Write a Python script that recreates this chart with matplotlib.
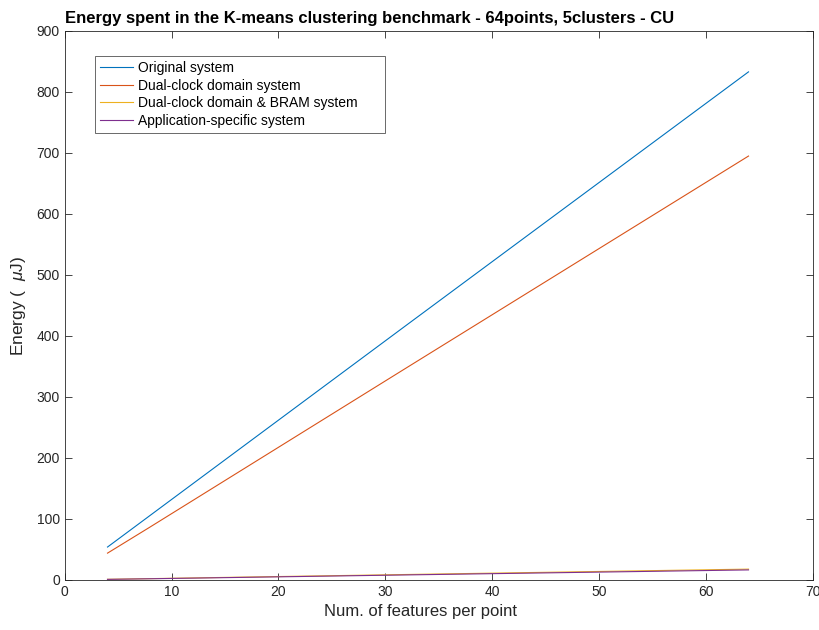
import matplotlib
matplotlib.use("Agg")
import matplotlib.pyplot as plt

plt.rcParams['font.family'] = ['Liberation Sans', 'DejaVu Sans']
plt.rcParams['mathtext.fontset'] = 'custom'
plt.rcParams['mathtext.it'] = 'Liberation Sans:italic'

features = [4, 8, 16, 32, 64]
original = [54, 106, 210, 418, 833]
dual_clock = [44, 87, 174, 348, 695]
dual_clock_bram = [1.1, 2.2, 4.5, 9.0, 17.8]
app_specific = [1.0, 2.0, 4.1, 8.3, 16.5]

series_labels = ["Original system", "Dual-clock domain system",
                 "Dual-clock domain & BRAM system", "Application-specific system"]
colors = ["#0072BD", "#D95319", "#EDB120", "#7E2F8E"]

fig = plt.figure(figsize=(8.2, 6.3), dpi=100)
ax = fig.add_axes([0.079, 0.0794, 0.912, 0.8714])

for ys, lab, c in zip([original, dual_clock, dual_clock_bram, app_specific], series_labels, colors):
    ax.plot(features, ys, color=c, lw=0.8, label=lab)

ax.set_xlim(0, 70)
ax.set_ylim(0, 900)
ax.set_xticks(range(0, 71, 10))
ax.set_yticks(range(0, 901, 100))
ax.tick_params(direction='in', top=True, right=True, labelsize=10, length=5,
               width=0.6, color='#262626', labelcolor='#262626')
for s in ax.spines.values():
    s.set_linewidth(0.6)
    s.set_color('#262626')

ax.set_xlabel("Num. of features per point", fontsize=12, color='#262626')
ax.xaxis.set_label_coords(0.475, -0.043)
ax.set_ylabel("Energy (  $\\mu$J)", fontsize=12.5, color='#262626', labelpad=6)
ax.set_title("Energy spent in the K-means clustering benchmark - 64points, 5clusters - CU",
             fontsize=12, fontweight='bold', pad=6, loc='left')

leg = ax.legend(loc='upper left', bbox_to_anchor=(0.04, 0.5, 0.388, 0.454), mode='expand',
                borderaxespad=0, fontsize=10, frameon=True, fancybox=False,
                handlelength=2.4, handletextpad=0.4, labelspacing=0.26, borderpad=0.35)
leg.get_frame().set_edgecolor('#262626')
leg.get_frame().set_linewidth(0.6)

fig.savefig("out.png", dpi=100)
